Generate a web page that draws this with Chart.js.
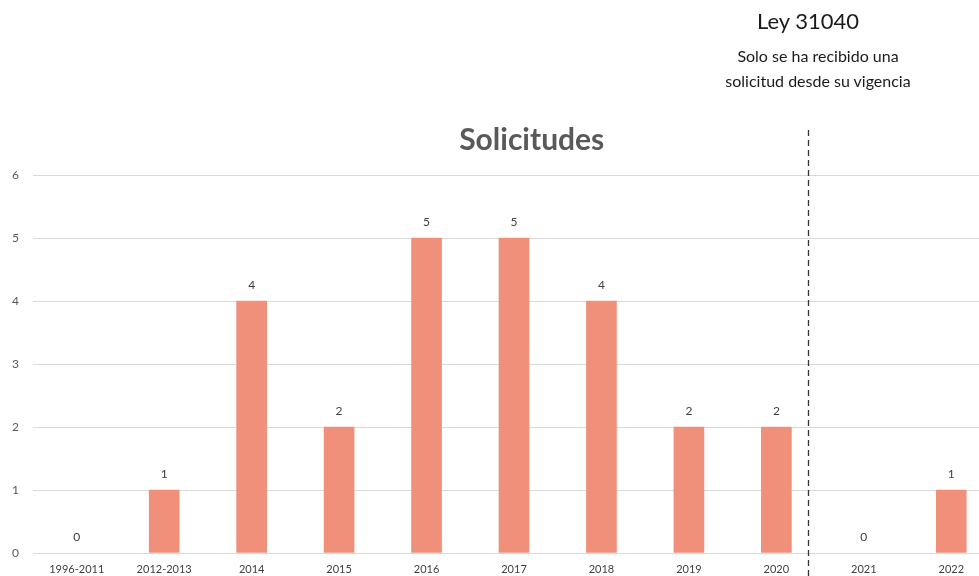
<!DOCTYPE html>
<html><head><meta charset="utf-8">
<script src="https://cdn.jsdelivr.net/npm/chart.js@4.4.0/dist/chart.umd.min.js"></script>
<style>
html,body{margin:0;padding:0;background:#fff;overflow:hidden;width:979px;height:576px;}
#wrap{position:absolute;left:0;top:0;width:995px;height:576px;}
.t{position:absolute;font-family:Lato,"Open Sans",sans-serif;color:#1a1a1a;text-align:center;white-space:nowrap;}
</style></head>
<body>
<div id="wrap"><canvas id="c" width="995" height="576"></canvas></div>
<div class="t" style="left:708px;top:7px;width:200px;font-size:22px;">Ley 31040</div>
<div class="t" style="left:678px;top:43px;width:280px;font-size:16px;line-height:25px;">Solo se ha recibido una<br>solicitud desde su vigencia</div>
<script>
const categories = ["1996-2011","2012-2013","2014","2015","2016","2017","2018","2019","2020","2021","2022"];
const solicitudes = [0,1,4,2,5,5,4,2,2,0,1];
const yTicks = [0,1,2,3,4,5,6];
const chartTitle = "Solicitudes";

const labelsPlugin = {
  id:'labels',
  afterDatasetsDraw(chart){
    const ctx = chart.ctx;
    const meta = chart.getDatasetMeta(0);
    ctx.save();
    ctx.font = '12px Lato, "Open Sans", sans-serif';
    ctx.fillStyle = '#404040';
    ctx.textAlign = 'center';
    ctx.textBaseline = 'middle';
    meta.data.forEach((bar,i)=>{
      ctx.fillText(String(solicitudes[i]), bar.x, bar.y - 16);
    });
    // title
    ctx.font = 'bold 30px Lato, "Open Sans", sans-serif';
    ctx.fillStyle = '#595959';
    const xs = chart.scales.x;
    const cx = (xs.getPixelForValue(5) + xs.getPixelForValue(6)) / 2 - 26;
    ctx.fillText(chartTitle, cx, 140);
    // dashed divider
    const dx = xs.getPixelForValue(8) + 0.36 * (xs.getPixelForValue(9) - xs.getPixelForValue(8));
    ctx.strokeStyle = '#333';
    ctx.lineWidth = 1.3;
    ctx.setLineDash([6,4]);
    ctx.beginPath();
    ctx.moveTo(Math.round(dx)+0.5, 130);
    ctx.lineTo(Math.round(dx)+0.5, 576);
    ctx.stroke();
    ctx.restore();
  }
};

new Chart(document.getElementById('c'), {
  type:'bar',
  data:{labels:categories, datasets:[{data:solicitudes,
    backgroundColor:(c)=> c.raw === 0 ? 'rgba(0,0,0,0)' : '#F0907A', barThickness:30}]},
  options:{
    responsive:false, animation:false,
    layout:{padding:{top:175,right:0,bottom:0,left:0}},
    plugins:{legend:{display:false}, tooltip:{enabled:false}},
    scales:{
      x:{
        grid:{display:false}, border:{display:false},
        ticks:{color:'#404040', font:{family:'Lato, "Open Sans", sans-serif', size:11}, padding:2, maxRotation:0, autoSkip:false},
        afterFit(s){ s.height = 23; }
      },
      y:{
        min:0, max:6,
        afterBuildTicks(s){ s.ticks = yTicks.map(v=>({value:v})); },
        grid:{color:'#d9d9d9', lineWidth:1, drawTicks:false},
        border:{display:false},
        ticks:{color:'#595959', font:{family:'Lato, "Open Sans", sans-serif', size:12}, padding:14},
        afterFit(s){ s.width = 33; }
      }
    }
  },
  plugins:[labelsPlugin]
});
</script>
</body></html>
